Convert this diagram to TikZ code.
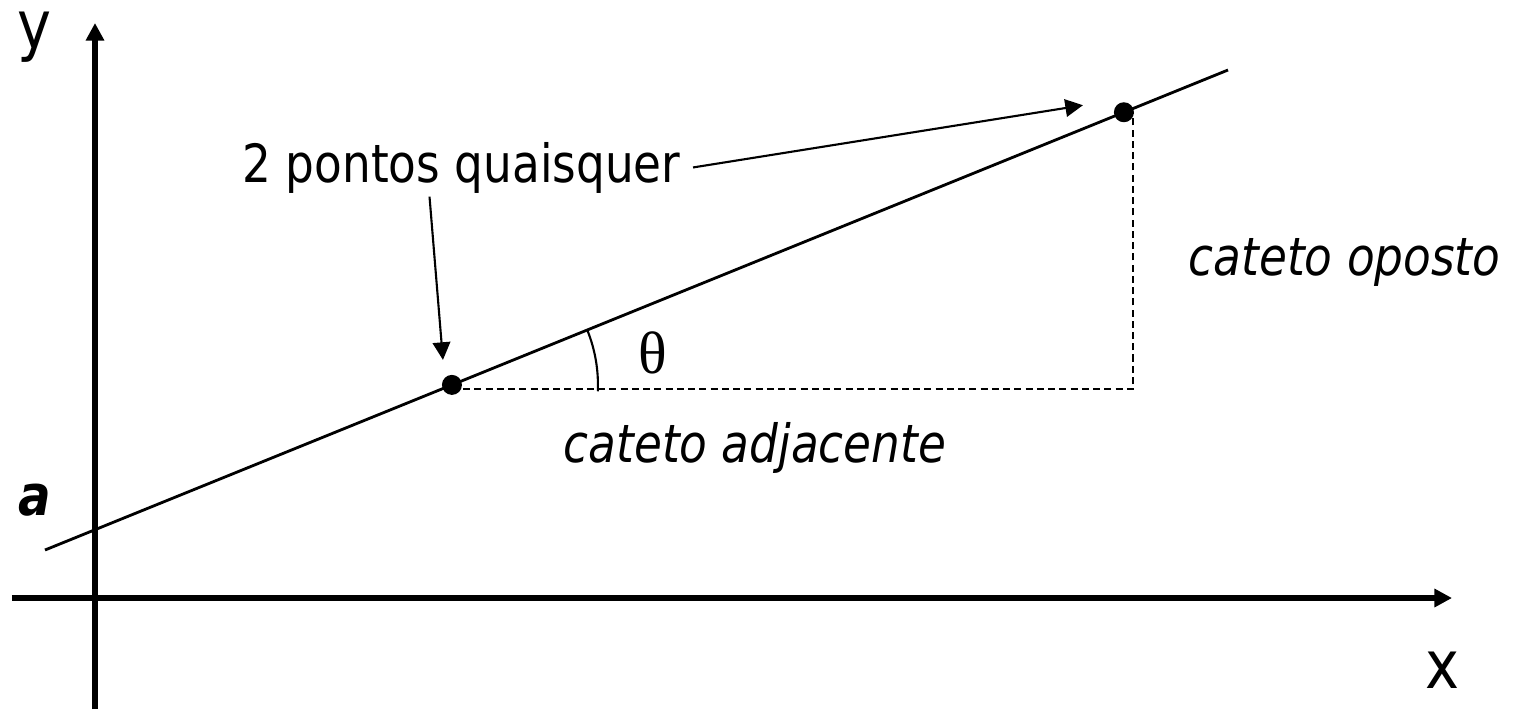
\documentclass[tikz,border=0pt]{standalone}
\usepackage{fontspec}
\setmainfont{DejaVu Sans}[FakeStretch=0.86]
\newfontfamily\thetafont{Liberation Serif}
\usetikzlibrary{arrows.meta}

\begin{document}
\begin{tikzpicture}[
    axis/.style={line width=1.6pt, -{Triangle[length=5pt,width=5pt]}},
    pointer/.style={line width=0.6pt, -{Triangle[length=5pt,width=5pt]}},
    guide/.style={line width=0.6pt, dash pattern=on 2pt off 1.2pt},
    dot/.style={circle, fill=black, inner sep=0pt, minimum size=2mm},
    lbl/.style={inner sep=0pt, font=\fontsize{15}{18}\selectfont}]
    \useasboundingbox (0,0) rectangle (15.16,7.09);
    % axes
    \draw[axis] (0.95,0) -- (0.95,6.86);
    \draw[axis] (0.12,1.11) -- (14.52,1.11);
    \node[lbl, font=\fontsize{19}{22}\selectfont, anchor=base west] (ylbl) at (0.17,6.61) {y};
    \node[lbl, font=\fontsize{19}{22}\selectfont, anchor=base west] (xlbl) at (14.25,0.21) {x};
    \node[lbl, font=\fontsize{16}{18}\selectfont\bfseries\itshape, anchor=base west] (alab) at (0.18,1.94) {a};
    % the line and its two points
    \draw[line width=0.8pt] (0.45,1.59) -- (12.28,6.39)
        node[dot, pos=0.344] (p1) {}
        node[dot, pos=0.912] (p2) {};
    \coordinate (c) at (11.33,3.20);
    \draw[guide] (p1 |- c) -- (c) -- (c |- p2);
    \draw[line width=0.6pt] (p1) ++(-2.5:1.46) arc (-2.5:22:1.46);
    \node[inner sep=0pt, font=\thetafont\fontsize{17}{19}\selectfont] (th) at (6.53,3.56) {θ};
    % labels
    \node[lbl, anchor=base west] (pts) at (2.42,5.27) {2 pontos quaisquer};
    \node[lbl, anchor=base west] (opo) at (11.88,4.34) {\itshape cateto oposto};
    \node[lbl, anchor=base west] (adj) at (5.63,2.47) {\itshape cateto adjacente};
    \draw[pointer] ([xshift=-3.2mm, yshift=-0.3mm]pts.south) -- ([shift={(-0.09,0.25)}]p1.center);
    \draw[pointer] ([xshift=1.2mm]pts.east) -- ([shift={(-0.41,0.07)}]p2.center);
\end{tikzpicture}
\end{document}
